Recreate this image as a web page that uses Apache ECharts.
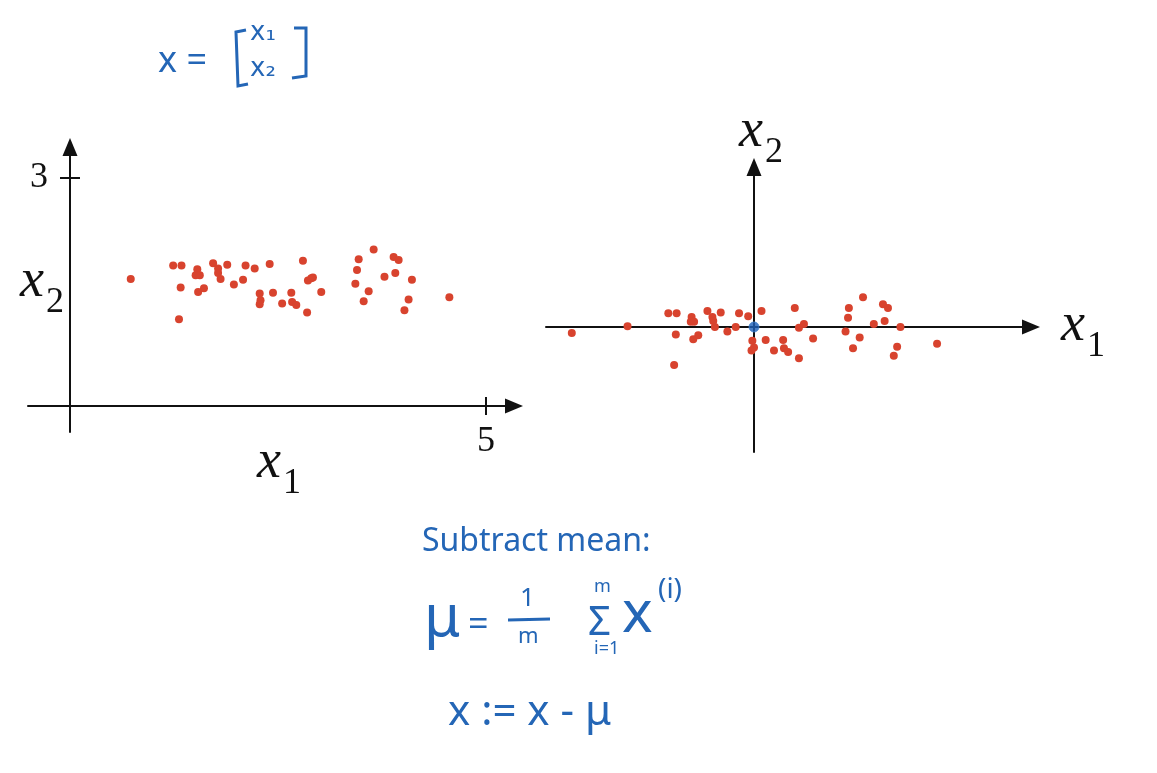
<!DOCTYPE html>
<html><head><meta charset="utf-8">
<script src="https://cdn.jsdelivr.net/npm/echarts@6/dist/echarts.min.js"></script>
<style>html,body{margin:0;padding:0;background:#fff}#c{width:1157px;height:773px}</style>
</head><body><div id="c"></div>
<script>
// ---- data: original points (x1, x2) ----
const leftX1 = [0.73,1.24,1.34,1.53,1.51,1.56,1.33,1.61,1.54,1.31,1.72,1.78,1.78,1.81,1.89,1.97,2.08,2.11,2.22,2.40,2.28,2.29,2.28,2.44,2.55,2.66,2.67,2.72,2.85,2.80,2.86,2.92,2.90,3.02,3.47,3.65,3.45,3.43,3.59,3.53,3.78,3.89,3.95,3.91,4.11,4.07,4.02,4.56];
const leftX2 = [1.67,1.85,1.85,1.80,1.72,1.72,1.56,1.55,1.50,1.14,1.88,1.81,1.75,1.67,1.86,1.60,1.66,1.85,1.81,1.87,1.48,1.39,1.34,1.49,1.35,1.49,1.37,1.33,1.23,1.91,1.65,1.69,1.68,1.50,1.93,2.06,1.79,1.61,1.51,1.38,1.70,1.96,1.92,1.75,1.66,1.40,1.26,1.43];
// ---- data: mean-subtracted points ----
const rightX1 = [-2.19,-1.52,-1.03,-0.93,-0.75,-0.76,-0.72,-0.94,-0.67,-0.73,-0.96,-0.56,-0.50,-0.49,-0.47,-0.40,-0.32,-0.22,-0.18,-0.07,0.09,-0.02,0.00,-0.03,0.14,0.24,0.35,0.36,0.41,0.54,0.49,0.54,0.60,0.71,1.14,1.31,1.13,1.10,1.27,1.19,1.44,1.55,1.61,1.57,1.76,1.72,1.68,2.20];
const rightX2 = [-0.08,0.01,0.18,0.18,0.13,0.07,0.07,-0.10,-0.11,-0.16,-0.50,0.21,0.13,0.08,0.00,0.19,-0.06,0.00,0.18,0.14,0.21,-0.18,-0.27,-0.31,-0.17,-0.31,-0.17,-0.28,-0.33,-0.41,0.25,-0.01,0.04,-0.15,0.25,0.39,0.12,-0.06,-0.14,-0.28,0.04,0.30,0.25,0.08,0.00,-0.26,-0.38,-0.22];
const meanPoint = [0, 0];
// ---- tick labels ----
const leftXTicks = [5];
const leftYTicks = [3];

const INK = '#111';
const DOT = '#d8432e';
const BLUE = '#2466b6';
const NUMFONT = 'Liberation Serif';

function nameStyle(extra) {
  return Object.assign({
    rich: {
      m: { fontFamily: NUMFONT, fontStyle: 'italic', fontSize: 54, color: INK, lineHeight: 54, verticalAlign: 'bottom', padding: [0, 2, 12, 0] },
      s: { fontFamily: NUMFONT, fontSize: 36, color: INK, lineHeight: 36, verticalAlign: 'bottom' }
    }
  }, extra || {});
}
const axisLineMain = { symbol: ['none', 'triangle'], symbolSize: [15, 18], lineStyle: { color: INK, width: 2 } };
const tickStyle = { color: INK, width: 2 };

const leftPts = leftX1.map((v, i) => [v, leftX2[i]]);
const rightPts = rightX1.map((v, i) => [v, rightX2[i]]);

const chart = echarts.init(document.getElementById('c'));
chart.setOption({
  backgroundColor: '#fff',
  animation: false,
  grid: [
    { left: 28, top: 147, width: 486, height: 285, outerBoundsMode: 'none', containLabel: false },
    { left: 546, top: 167, width: 485, height: 285, outerBoundsMode: 'none', containLabel: false }
  ],
  xAxis: [
    { gridIndex: 0, type: 'value', min: -0.505, max: 5.337, position: 'bottom',
      axisLine: Object.assign({ onZero: true, onZeroAxisIndex: 0 }, axisLineMain),
      axisTick: { show: true, customValues: leftXTicks, length: 9, lineStyle: tickStyle },
      axisLabel: { customValues: leftXTicks, margin: -8, fontSize: 36, fontFamily: NUMFONT, color: INK },
      splitLine: { show: false },
      name: '{m|x}{s|1}', nameLocation: 'middle', nameGap: 16, nameMoveOverlap: false,
      nameTextStyle: nameStyle({ padding: [0, 0, 0, 16] }) },
    { gridIndex: 0, type: 'value', min: -0.505, max: 5.337, position: 'top',
      axisLine: { show: false, onZero: true, onZeroAxisIndex: 0 },
      axisTick: { show: true, customValues: leftXTicks, length: 9, lineStyle: tickStyle },
      axisLabel: { show: false }, splitLine: { show: false } },
    { gridIndex: 1, type: 'value', min: -2.5, max: 3.329, position: 'bottom',
      axisLine: Object.assign({ onZero: true, onZeroAxisIndex: 2 }, axisLineMain),
      axisTick: { show: false }, axisLabel: { show: false }, splitLine: { show: false },
      name: '{m|x}{s|1}', nameLocation: 'end', nameGap: 30, nameMoveOverlap: false,
      nameTextStyle: nameStyle({ padding: [22, 0, 0, 0] }) }
  ],
  yAxis: [
    { gridIndex: 0, type: 'value', min: -0.342, max: 3.408, position: 'left',
      axisLine: Object.assign({ onZero: true, onZeroAxisIndex: 0 }, axisLineMain),
      axisTick: { show: true, customValues: leftYTicks, length: 10, lineStyle: tickStyle },
      axisLabel: { customValues: leftYTicks, margin: -20, fontSize: 36, fontFamily: NUMFONT, color: INK },
      splitLine: { show: false },
      name: '{m|x}{s|2}', nameLocation: 'middle', nameRotate: 0, nameGap: -36, nameMoveOverlap: false,
      nameTextStyle: nameStyle({ padding: [8, 0, 0, 0] }) },
    { gridIndex: 0, type: 'value', min: -0.342, max: 3.408, position: 'right',
      axisLine: { show: false, onZero: true, onZeroAxisIndex: 0 },
      axisTick: { show: true, customValues: leftYTicks, length: 10, lineStyle: tickStyle },
      axisLabel: { show: false }, splitLine: { show: false } },
    { gridIndex: 1, type: 'value', min: -1.645, max: 2.105, position: 'left',
      axisLine: Object.assign({ onZero: true, onZeroAxisIndex: 2 }, axisLineMain),
      axisTick: { show: false }, axisLabel: { show: false }, splitLine: { show: false },
      name: '{m|x}{s|2}', nameLocation: 'end', nameGap: -4, nameMoveOverlap: false,
      nameTextStyle: nameStyle({ padding: [0, 0, 0, 14] }) }
  ],
  series: [
    { type: 'scatter', xAxisIndex: 0, yAxisIndex: 0, data: leftPts, symbolSize: 8, itemStyle: { color: DOT, opacity: 1 } },
    { type: 'scatter', xAxisIndex: 2, yAxisIndex: 2, data: rightPts, symbolSize: 8, itemStyle: { color: DOT, opacity: 1 } },
    { type: 'scatter', xAxisIndex: 2, yAxisIndex: 2, data: [meanPoint], symbol: 'circle', symbolSize: 10, z: 5,
      itemStyle: { color: '#1c5fb8', borderColor: '#3b7fd0', borderWidth: 1 } }
  ],
  graphic: [
    // x = [x1; x2]
    { type: 'text', left: 158, top: 44, style: { text: 'x =', font: '36px "Noto Sans"', fill: BLUE } },
    { type: 'polyline', shape: { points: [[246, 30], [236, 32], [238, 86], [248, 84]] }, style: { stroke: BLUE, lineWidth: 3, fill: null } },
    { type: 'polyline', shape: { points: [[294, 28], [306, 28], [306, 76], [292, 78]] }, style: { stroke: BLUE, lineWidth: 3, fill: null } },
    { type: 'text', left: 250, top: 20, style: { text: 'x\u2081', font: '26px "DejaVu Sans"', fill: BLUE } },
    { type: 'text', left: 250, top: 56, style: { text: 'x\u2082', font: '26px "DejaVu Sans"', fill: BLUE } },
    // Subtract mean:
    { type: 'text', left: 422, top: 526, style: { text: 'Subtract mean:', font: '32px "Noto Sans"', fill: BLUE } },
    // mu = 1/m sum x^(i)
    { type: 'text', left: 424, top: 590, style: { text: '\u03bc', font: '58px "Noto Sans"', fill: BLUE } },
    { type: 'text', left: 468, top: 608, style: { text: '=', font: '36px "Noto Sans"', fill: BLUE } },
    { type: 'text', left: 520, top: 586, style: { text: '1', font: '26px "Noto Sans"', fill: BLUE } },
    { type: 'line', shape: { x1: 508, y1: 620, x2: 550, y2: 619 }, style: { stroke: BLUE, lineWidth: 3 } },
    { type: 'text', left: 518, top: 626, style: { text: 'm', font: '22px "Noto Sans"', fill: BLUE } },
    { type: 'text', left: 594, top: 578, style: { text: 'm', font: '18px "Noto Sans"', fill: BLUE } },
    { type: 'text', left: 588, top: 604, style: { text: '\u03a3', font: '40px "Noto Sans"', fill: BLUE } },
    { type: 'text', left: 594, top: 640, style: { text: 'i=1', font: '18px "Noto Sans"', fill: BLUE } },
    { type: 'text', left: 622, top: 586, style: { text: 'x', font: '58px "Noto Sans"', fill: BLUE } },
    { type: 'text', left: 658, top: 576, style: { text: '(i)', font: '28px "Noto Sans"', fill: BLUE } },
    // x := x - mu
    { type: 'text', left: 448, top: 692, style: { text: 'x := x - \u03bc', font: '42px "Noto Sans"', fill: BLUE } }
  ]
});
</script>
</body></html>
